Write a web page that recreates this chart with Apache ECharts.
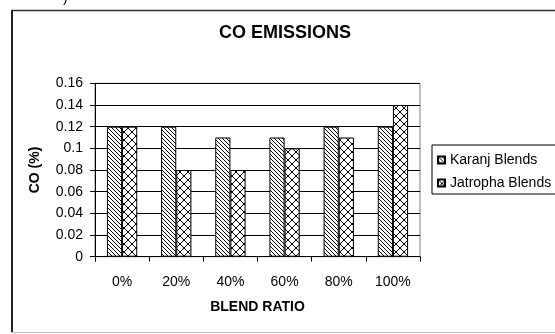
<!DOCTYPE html>
<html>
<head>
<meta charset="utf-8">
<script src="https://cdn.jsdelivr.net/npm/echarts@6/dist/echarts.min.js"></script>
<style>
  html, body { margin: 0; padding: 0; background: #fff; }
  #chart { width: 555px; height: 334px; }
</style>
</head>
<body>
<div id="chart"></div>
<script>
// CO emissions (%) by blend ratio
var blendRatios = ['0%', '20%', '40%', '60%', '80%', '100%'];
var karanjCO = [0.12, 0.12, 0.11, 0.11, 0.12, 0.12];
var jatrophaCO = [0.12, 0.08, 0.08, 0.10, 0.11, 0.14];
var seriesNames = ['Karanj Blends', 'Jatropha Blends'];

// Hatch fills: diagonal lines for Karanj, diagonal cross-hatch for Jatropha
function diagonalTile(size) {
  var c = document.createElement('canvas');
  c.width = size; c.height = size;
  var g = c.getContext('2d');
  g.fillStyle = '#fff';
  g.fillRect(0, 0, size, size);
  g.strokeStyle = '#000';
  g.lineWidth = 1;
  g.beginPath();
  g.moveTo(-1, -1); g.lineTo(size + 1, size + 1);
  g.moveTo(-1, size - 1); g.lineTo(1, size + 1);
  g.moveTo(size - 1, -1); g.lineTo(size + 1, 1);
  g.stroke();
  return c;
}
function crossTile(size) {
  var c = document.createElement('canvas');
  c.width = size; c.height = size;
  var g = c.getContext('2d');
  g.fillStyle = '#fff';
  g.fillRect(0, 0, size, size);
  g.strokeStyle = '#000';
  g.lineWidth = 1;
  g.beginPath();
  g.moveTo(0, 0); g.lineTo(size, size);
  g.moveTo(size, 0); g.lineTo(0, size);
  g.stroke();
  return c;
}

var chart = echarts.init(document.getElementById('chart'), null, { renderer: 'canvas' });
var font = 'Liberation Sans, Arial, sans-serif';

chart.setOption({
  backgroundColor: '#fff',
  animation: false,
  title: {
    text: 'CO EMISSIONS',
    left: 219,
    top: 24,
    padding: 0,
    textStyle: { fontFamily: font, fontSize: 18, fontWeight: 'bold', color: '#000' }
  },
  legend: {
    orient: 'vertical',
    left: 432,
    top: 145,
    data: seriesNames,
    icon: 'rect',
    itemWidth: 7,
    itemHeight: 7,
    itemGap: 9,
    padding: [8, 40, 4, 5],
    borderColor: '#000',
    borderWidth: 1,
    backgroundColor: '#fff',
    textStyle: { fontFamily: font, fontSize: 14, color: '#000' }
  },
  grid: {
    left: 95,
    right: 135,
    top: 83.3,
    bottom: 77.3,
    show: true,
    borderColor: '#808080',
    borderWidth: 1,
    backgroundColor: '#fff'
  },
  xAxis: {
    type: 'category',
    data: blendRatios,
    name: 'BLEND RATIO',
    nameLocation: 'middle',
    nameGap: 43,
    nameTextStyle: { fontFamily: font, fontSize: 14, fontWeight: 'bold', color: '#000' },
    axisLine: { lineStyle: { color: '#000', width: 1 } },
    axisTick: { show: true, alignWithLabel: false, length: 5, lineStyle: { color: '#000' } },
    axisLabel: { margin: 18, fontFamily: font, fontSize: 14, color: '#000' }
  },
  yAxis: {
    type: 'value',
    min: 0,
    max: 0.16,
    interval: 0.02,
    name: 'CO (%)',
    nameLocation: 'middle',
    nameGap: 53,
    nameRotate: 90,
    nameTextStyle: { fontFamily: font, fontSize: 14, fontWeight: 'bold', color: '#000' },
    axisLine: { show: true, lineStyle: { color: '#000', width: 1 } },
    axisTick: { show: true, length: 5, lineStyle: { color: '#000' } },
    axisLabel: { margin: 12, fontFamily: font, fontSize: 14, color: '#000' },
    splitLine: { show: true, lineStyle: { color: '#000', width: 1 } }
  },
  series: [
    {
      name: seriesNames[0],
      type: 'bar',
      data: karanjCO,
      barGap: '0%',
      barCategoryGap: '44%',
      itemStyle: {
        color: { image: diagonalTile(4), repeat: 'repeat' },
        borderColor: '#000',
        borderWidth: 1
      }
    },
    {
      name: seriesNames[1],
      type: 'bar',
      data: jatrophaCO,
      barGap: '0%',
      barCategoryGap: '44%',
      itemStyle: {
        color: { image: crossTile(8), repeat: 'repeat' },
        borderColor: '#000',
        borderWidth: 1
      }
    }
  ],
  graphic: [
    { type: 'line', shape: { x1: 12, y1: 10, x2: 12, y2: 333 }, style: { stroke: '#222', lineWidth: 2 } },
    { type: 'line', shape: { x1: 11, y1: 10.5, x2: 555, y2: 10.5 }, style: { stroke: '#333', lineWidth: 1.5 } },
    { type: 'line', shape: { x1: 11, y1: 332.5, x2: 555, y2: 332.5 }, style: { stroke: '#bbb', lineWidth: 1 } },
    { type: 'text', left: 63, top: -9, style: { text: ')', fontFamily: font, fontSize: 14, fill: '#000' } }
  ]
});
</script>
</body>
</html>
